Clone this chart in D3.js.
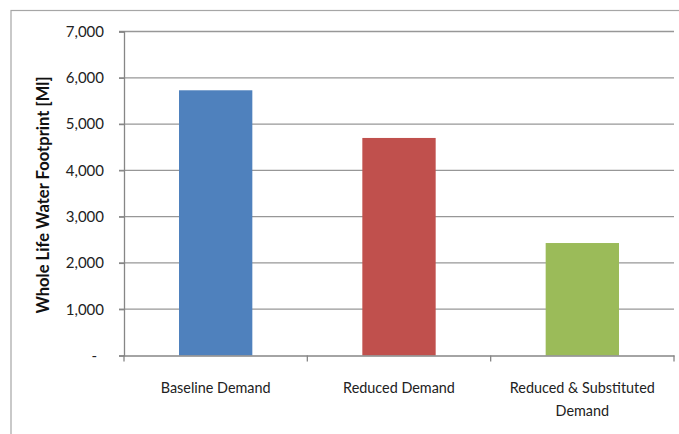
<!DOCTYPE html>
<html><head><meta charset="utf-8">
<script src="https://cdn.jsdelivr.net/npm/d3@7"></script>
<style>body{margin:0;background:#fff}svg{display:block}</style>
</head><body>
<script>
const categories = ["Baseline Demand", "Reduced Demand", "Reduced & Substituted Demand"];
const categoryLines = [["Baseline Demand"], ["Reduced Demand"], ["Reduced & Substituted", "Demand"]];
const values = [5730, 4700, 2430];
const colors = ["#4f81bd", "#c0504d", "#9bbb59"];
const yTicks = [0, 1000, 2000, 3000, 4000, 5000, 6000, 7000];
const yTickLabels = ["-", "1,000", "2,000", "3,000", "4,000", "5,000", "6,000", "7,000"];
const yTitle = "Whole Life Water Footprint [Ml]";

const W = 679, H = 434;
const m = {left: 124, right: 5, top: 31.5, bottom: 78.5};
const svg = d3.select("body").append("svg").attr("width", W).attr("height", H);
const font = "Lato, 'Open Sans', sans-serif";

svg.append("rect").attr("x", 11).attr("y", 10.5).attr("width", W + 10).attr("height", H + 10)
  .attr("fill", "none").attr("stroke", "#a6a6a6").attr("stroke-width", 1.2);

const x = d3.scaleBand().domain(categories).range([m.left, W - m.right]).paddingInner(0.6).paddingOuter(0.3);
const y = d3.scaleLinear().domain([0, 7000]).range([H - m.bottom, m.top]);

// gridlines
svg.append("g").selectAll("line").data(yTicks.filter(d => d > 0)).join("line")
  .attr("x1", m.left - 5).attr("x2", W - m.right)
  .attr("y1", d => y(d)).attr("y2", d => y(d))
  .attr("stroke", "#979797").attr("stroke-width", 1.3);

// bars
svg.append("g").selectAll("rect").data(categories).join("rect")
  .attr("x", d => x(d)).attr("width", x.bandwidth())
  .attr("y", (d, i) => y(values[i])).attr("height", (d, i) => y(0) - y(values[i]))
  .attr("fill", (d, i) => colors[i]);

// y axis
const yAxis = d3.axisLeft(y).tickValues(yTicks).tickFormat((d, i) => yTickLabels[i]).tickSize(5).tickPadding(15);
const gy = svg.append("g").attr("transform", `translate(${m.left},0)`).call(yAxis);
gy.select(".domain").attr("stroke", "#868686").attr("stroke-width", 1.3);
gy.selectAll(".tick line").attr("stroke", "#868686").attr("stroke-width", 1.3);
gy.selectAll(".tick text").attr("font-family", font).attr("font-size", 15).attr("fill", "#222")
  .attr("dx", d => d === 0 ? -7 : 0);

// x axis
const xAxis = d3.axisBottom(x).tickValues([]).tickSizeOuter(0);
const gx = svg.append("g").attr("transform", `translate(0,${y(0)})`).call(xAxis);
gx.select(".domain").attr("stroke", "#868686").attr("stroke-width", 1.6);
const bounds = [0, 1, 2, 3].map(i => m.left + i * x.step());
gx.selectAll(".sep").data(bounds).join("line").attr("class", "sep")
  .attr("x1", d => d).attr("x2", d => d).attr("y1", 0).attr("y2", 6)
  .attr("stroke", "#868686").attr("stroke-width", 1.3);

// x labels
const lbl = svg.append("g").selectAll("text").data(categories).join("text")
  .attr("x", d => x(d) + x.bandwidth() / 2).attr("y", 393)
  .attr("text-anchor", "middle").attr("font-family", font).attr("font-size", 14.4).attr("fill", "#222");
lbl.each(function(d, i) {
  d3.select(this).selectAll("tspan").data(categoryLines[i]).join("tspan")
    .attr("x", x(d) + x.bandwidth() / 2).attr("dy", (t, j) => j === 0 ? 0 : 23).text(t => t);
});

// y title
svg.append("text").attr("transform", `translate(49,195) rotate(-90)`)
  .attr("text-anchor", "middle").attr("font-family", font).attr("font-weight", "bold")
  .attr("font-size", 16.6).attr("fill", "#111").text(yTitle);
</script>
</body></html>
